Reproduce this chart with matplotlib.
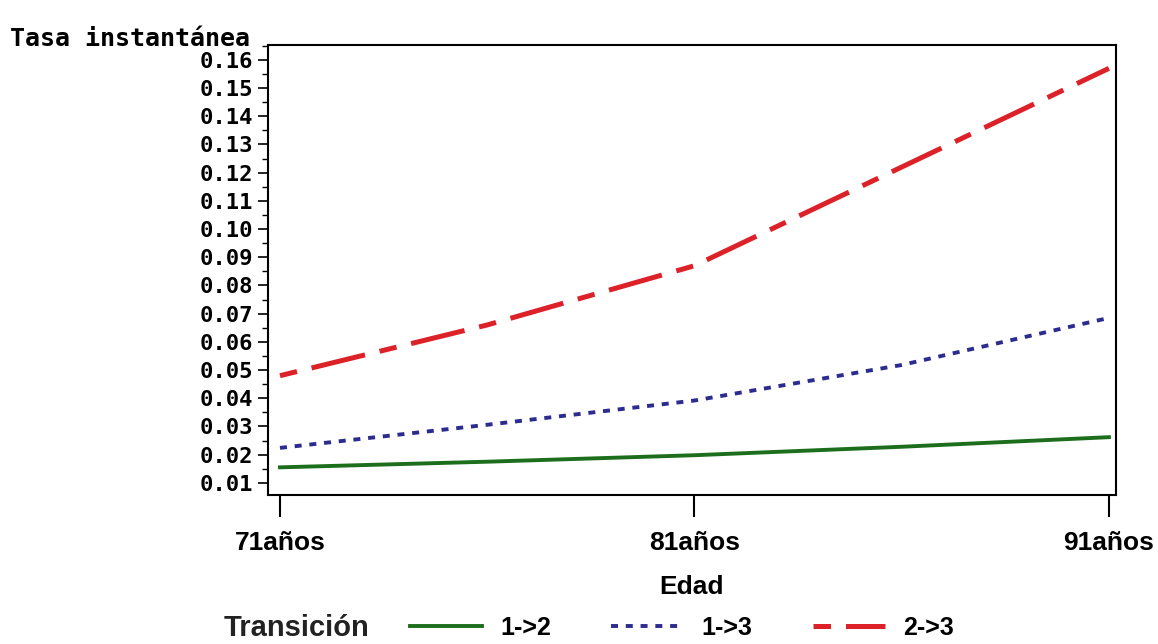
import matplotlib
matplotlib.use("Agg")
import matplotlib.pyplot as plt
from matplotlib.ticker import MultipleLocator

ages = [71, 76, 81, 86, 91]
age_ticks = [71, 81, 91]
age_labels = ["71años", "81años", "91años"]

rate_12 = [0.0155, 0.0175, 0.0198, 0.0228, 0.0262]
rate_13 = [0.0224, 0.0306, 0.0392, 0.0518, 0.0685]
rate_23 = [0.0480, 0.0660, 0.0870, 0.1220, 0.1570]

series_labels = ["1->2", "1->3", "2->3"]

y_ticks = [round(0.01 * i, 2) for i in range(1, 17)]

MONO = ["DejaVu Sans Mono"]
NARROW = ["Liberation Sans Narrow", "Liberation Sans", "DejaVu Sans"]


def main():
    fig = plt.figure(figsize=(11.58, 6.44), dpi=100)
    ax = fig.add_axes([0.2314, 0.2314, 0.7323, 0.6988])

    ax.plot(ages, rate_12, color="#1c6e1c", lw=2.8, ls="-",
            label=series_labels[0])
    ax.plot(ages, rate_13, color="#2c2c90", lw=2.8, ls=(0, (1.8, 2.0)),
            label=series_labels[1])
    ax.plot(ages, rate_23, color="#dc2228", lw=3.6, ls=(14, (11, 3, 3.5, 3)),
            label=series_labels[2])

    ax.set_xlim(70.71, 91.17)
    ax.set_ylim(0.0057, 0.1653)

    ax.set_xticks(age_ticks)
    ax.set_xticklabels(age_labels, family=NARROW, fontsize=19, fontweight="bold")
    ax.set_yticks(y_ticks)
    ax.set_yticklabels([f"{v:.2f}" for v in y_ticks], family=MONO,
                       fontsize=16, fontweight="bold")
    ax.yaxis.set_minor_locator(MultipleLocator(0.005))

    ax.tick_params(axis="x", length=16, width=1.5, pad=10, direction="out")
    ax.tick_params(axis="y", which="major", length=7, width=1.2, pad=4)
    ax.tick_params(axis="y", which="minor", length=4, width=1.0)

    for sp in ax.spines.values():
        sp.set_linewidth(1.5)

    ax.set_xlabel("Edad", family=NARROW, fontsize=19, fontweight="bold",
                  labelpad=14)
    fig.text(0.009, 0.94, "Tasa instantánea", family=MONO, fontsize=18,
             fontweight="bold", ha="left", va="center")

    fig.text(0.193, 0.025, "Transición", family=NARROW, fontsize=21,
             fontweight="bold", ha="left", va="center", color="#222222")
    fig.legend(loc="center left", bbox_to_anchor=(0.354, 0.025), ncol=3,
               frameon=False, borderpad=0, borderaxespad=0,
               handlelength=2.9, columnspacing=2.4, handletextpad=0.72,
               prop={"family": NARROW, "size": 18, "weight": "bold"})

    fig.savefig("out.png", dpi=100)
    plt.close(fig)


if __name__ == "__main__":
    main()
